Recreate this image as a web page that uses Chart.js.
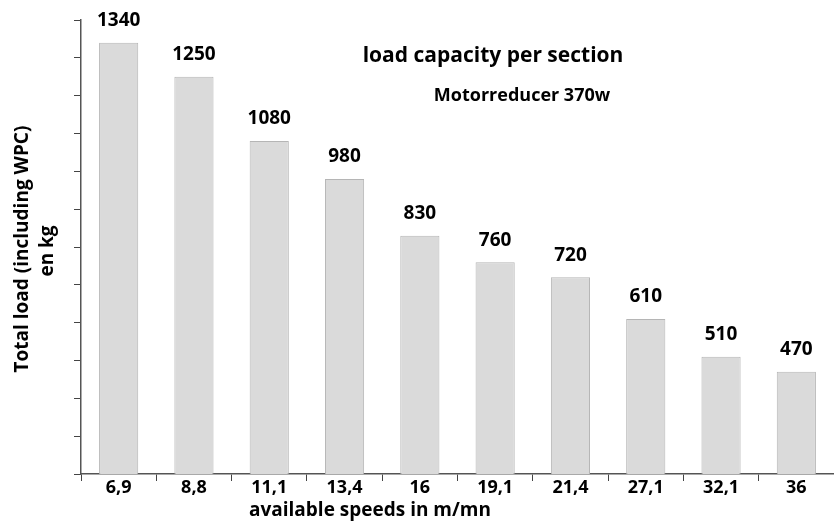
<!DOCTYPE html>
<html>
<head>
<meta charset="utf-8">
<script src="https://cdn.jsdelivr.net/npm/chart.js@4.4.1/dist/chart.umd.min.js"></script>
<style>
  html, body { margin: 0; padding: 0; background: #fff; }
  #wrap { width: 834px; height: 526px; }
</style>
</head>
<body>
<div id="wrap"><canvas id="myChart" width="834" height="526"></canvas></div>
<script>
const speeds = ["6,9", "8,8", "11,1", "13,4", "16", "19,1", "21,4", "27,1", "32,1", "36"];
const loads = [1340, 1250, 1080, 980, 830, 760, 720, 610, 510, 470];
const yMin = 200;
const yMax = 1400;
const yStep = 100;

const FONT = "'Open Sans', 'DejaVu Sans', sans-serif";

// titles, axis titles and value labels
const textPlugin = {
    id: "texts",
    afterDatasetsDraw(chart) {
        const ctx = chart.ctx;
        ctx.save();
        ctx.fillStyle = "#000";
        ctx.textAlign = "center";
        ctx.textBaseline = "middle";

        ctx.font = "bold 19px " + FONT;
        const meta = chart.getDatasetMeta(0);
        meta.data.forEach((bar, i) => {
            ctx.fillText(loads[i], bar.x, bar.y - 22);
        });

        ctx.font = "bold 21px " + FONT;
        ctx.fillText("load capacity per section", 493, 56);
        ctx.font = "bold 18px " + FONT;
        ctx.fillText("Motorreducer 370w", 522, 96);

        ctx.font = "bold 19px " + FONT;
        ctx.fillText("available speeds in m/mn", 370, 511);

        ctx.save();
        ctx.translate(23, 249);
        ctx.rotate(-Math.PI / 2);
        ctx.fillText("Total load (including WPC)", 0, 0);
        ctx.restore();
        ctx.save();
        ctx.translate(48, 251);
        ctx.rotate(-Math.PI / 2);
        ctx.fillText("en kg", 0, 0);
        ctx.restore();

        ctx.restore();
    }
};

const ctx = document.getElementById("myChart").getContext("2d");
const myChart = new Chart(ctx, {
    type: "bar",
    data: {
        labels: speeds,
        datasets: [{
            data: loads,
            backgroundColor: "#dadada",
            borderColor: "#b5b5b5",
            borderWidth: 1,
            barPercentage: 0.52,
            categoryPercentage: 1,
        }]
    },
    options: {
        responsive: false,
        animation: false,
        layout: { padding: { top: 20, left: 0, right: 0, bottom: 0 } },
        plugins: {
            legend: { display: false },
            tooltip: { enabled: false },
        },
        scales: {
            x: {
                offset: true,
                grid: {
                    offset: true,
                    drawOnChartArea: false,
                    drawTicks: true,
                    tickLength: 7,
                    color: "#444",
                },
                border: { color: "#555", width: 1.5 },
                ticks: {
                    color: "#000",
                    font: { family: FONT, size: 18, weight: "bold" },
                    padding: -4,
                    maxRotation: 0,
                },
                afterFit: (scale) => { scale.height = 52; },
            },
            y: {
                min: yMin,
                max: yMax,
                grid: {
                    drawOnChartArea: false,
                    drawTicks: true,
                    tickLength: 7,
                    color: "#444",
                },
                border: { color: "#555", width: 1.5 },
                ticks: { display: false, stepSize: yStep },
                afterFit: (scale) => { scale.width = 81; },
            }
        }
    },
    plugins: [textPlugin]
});
</script>
</body>
</html>
